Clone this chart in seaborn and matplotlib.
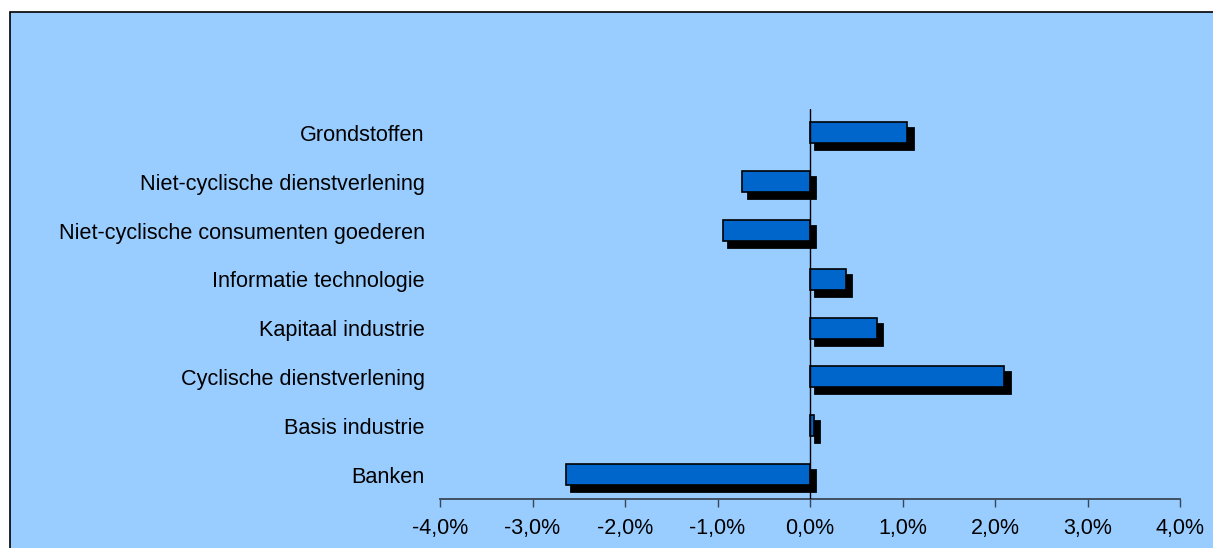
import pandas as pd
import numpy as np

import seaborn as sns
import matplotlib.pyplot as plt
import matplotlib.patheffects as pe
from matplotlib.patches import Rectangle

sectors = ['Grondstoffen', 'Niet-cyclische dienstverlening', 'Niet-cyclische consumenten goederen',
           'Informatie technologie', 'Kapitaal industrie', 'Cyclische dienstverlening',
           'Basis industrie', 'Banken']
returns = [1.05, -0.73, -0.94, 0.39, 0.72, 2.10, 0.04, -2.64]
ticks = [-4, -3, -2, -1, 0, 1, 2, 3, 4]
tick_labels = ['-4,0%', '-3,0%', '-2,0%', '-1,0%', '0,0%', '1,0%', '2,0%', '3,0%', '4,0%']

df = pd.DataFrame({'sector': sectors, 'rendement': returns})

sns.set_style('white')
plt.rcParams['font.family'] = ['Liberation Sans', 'DejaVu Sans']

W, H = 1213, 548
fig = plt.figure(figsize=(W / 100, H / 100), dpi=100, facecolor='white')

# chart area (light blue, black border, runs off the right/bottom edge)
fig.patches.append(Rectangle((10 / W, -0.05), 1.1, 1 - 12 / H + 0.05, transform=fig.transFigure,
                             facecolor='#99CCFF', edgecolor='black', linewidth=1.2, zorder=-10))

ax = fig.add_axes([440 / W, 1 - 499 / H, 740 / W, (499 - 108.5) / H])
ax.set_facecolor('none')
ax.set_zorder(1)

sns.barplot(data=df, x='rendement', y='sector', orient='h', color='#0066CC', width=0.43,
            saturation=1, edgecolor='black', linewidth=1.2, ax=ax)

# black drop shadow behind each bar (offsets in points, dpi 100)
sh = (3.9, -4.3)
for p in ax.patches:
    p.set_path_effects([pe.Stroke(offset=sh, linewidth=2.0, foreground='black'),
                        pe.SimplePatchShadow(offset=sh, shadow_rgbFace='black', alpha=1),
                        pe.Normal()])

ax.axvline(0, color='black', linewidth=1, zorder=5)

ax.set_xlim(-4, 4)
ax.set_xticks(ticks)
ax.set_xticklabels(tick_labels, fontsize=15.5, color='black')
ax.tick_params(axis='x', direction='out', length=6, width=1, color='#3a4656', pad=8, bottom=True)
ax.tick_params(axis='y', length=0, pad=11, labelsize=15.6, labelcolor='black')
ax.set_xlabel('')
ax.set_ylabel('')

for s in ['top', 'right', 'left']:
    ax.spines[s].set_visible(False)
ax.spines['bottom'].set_color('#3a4656')
ax.spines['bottom'].set_linewidth(1.3)

plt.savefig('out.png', dpi=100, facecolor='white')
